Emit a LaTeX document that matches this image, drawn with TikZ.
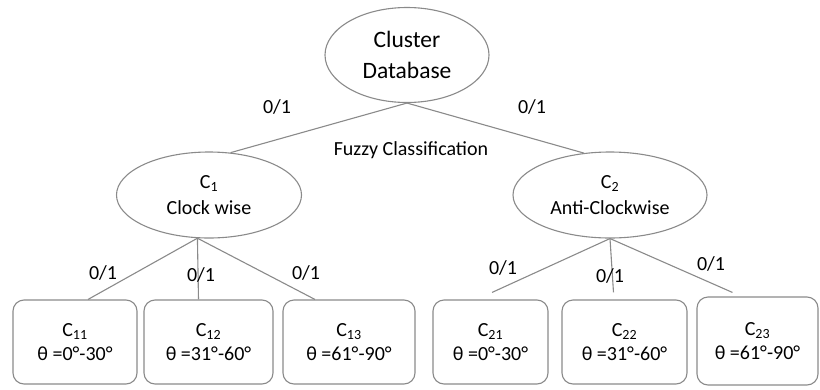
\documentclass[tikz,border=0pt]{standalone}
\usepackage{fontspec}
\setmainfont{Carlito}
\usetikzlibrary{shapes.geometric,calc}
\definecolor{edge}{HTML}{8A8A8A}
\begin{document}
\begin{tikzpicture}[x=1pt,y=-1pt,
  ell/.style={ellipse,draw=edge,line width=1.1pt,inner sep=0pt,align=center,font=\fontsize{20}{26}\selectfont},
  leaf/.style={draw=edge,line width=1.1pt,rounded corners=11pt,minimum height=84pt,align=center,font=\fontsize{20}{24}\selectfont,inner sep=0pt},
  conn/.style={draw=edge,line width=1.1pt},
  lbl/.style={font=\fontsize{20}{24}\selectfont,inner sep=0pt}]
\useasboundingbox (0,0) rectangle (820,389);

\node[ell,minimum width=164pt,minimum height=95pt,font=\fontsize{23.5}{31}\selectfont] (top) at (407,55) {Cluster\\Database};
\node[ell,minimum width=185pt,minimum height=86pt] (c1) at (209,195) {C\textsubscript{1}\\Clock wise};
\node[ell,minimum width=194pt,minimum height=86pt] (c2) at (610,195) {C\textsubscript{2}\\Anti-Clockwise};

\node[leaf,minimum width=124pt] (b1) at (75,342) {C\textsubscript{11}\\θ =0°-30°};
\node[leaf,minimum width=129pt] (b2) at (208.5,342) {C\textsubscript{12}\\θ =31°-60°};
\node[leaf,minimum width=132pt] (b3) at (349,342) {C\textsubscript{13}\\θ =61°-90°};
\node[leaf,minimum width=115pt] (b4) at (490.5,342) {C\textsubscript{21}\\θ =0°-30°};
\node[leaf,minimum width=125pt] (b5) at (624.5,342) {C\textsubscript{22}\\θ =31°-60°};
\node[leaf,minimum width=121pt,minimum height=88pt] (b6) at (757.5,341) {C\textsubscript{23}\\θ =61°-90°};

\coordinate (e1) at ($(b1.north)+(13,0)$);
\coordinate (e2) at ($(b2.north)+(-10,0)$);
\coordinate (e3) at ($(b3.north)+(-34,0)$);
\coordinate (e4) at ($(b4.north)+(1.5,-7)$);
\coordinate (e5) at ($(b5.north)+(-11,-7)$);
\coordinate (e6) at ($(b6.north)+(-25,-4)$);

\draw[conn] (top.south) -- (c1.63);
\draw[conn] (top.south) -- (c2.122);
\draw[conn] (c1.255) -- (e1);
\draw[conn] (c1.255) -- (e2);
\draw[conn] (c1.255) -- (e3);
\draw[conn] (c2.south) -- (e4);
\draw[conn] (c2.south) -- (e5);
\draw[conn] (c2.south) -- (e6);

\node[lbl] (l1) at (277,107) {0/1};
\node[lbl] (l2) at (532,107) {0/1};
\node[lbl] (fz) at (411,150) {Fuzzy Classification};
\node[lbl] (l3) at (103,273) {0/1};
\node[lbl] (l4) at (201,275) {0/1};
\node[lbl] (l5) at (306,273) {0/1};
\node[lbl] (l6) at (503,268) {0/1};
\node[lbl] (l7) at (610,276) {0/1};
\node[lbl] (l8) at (711,264) {0/1};
\end{tikzpicture}
\end{document}
